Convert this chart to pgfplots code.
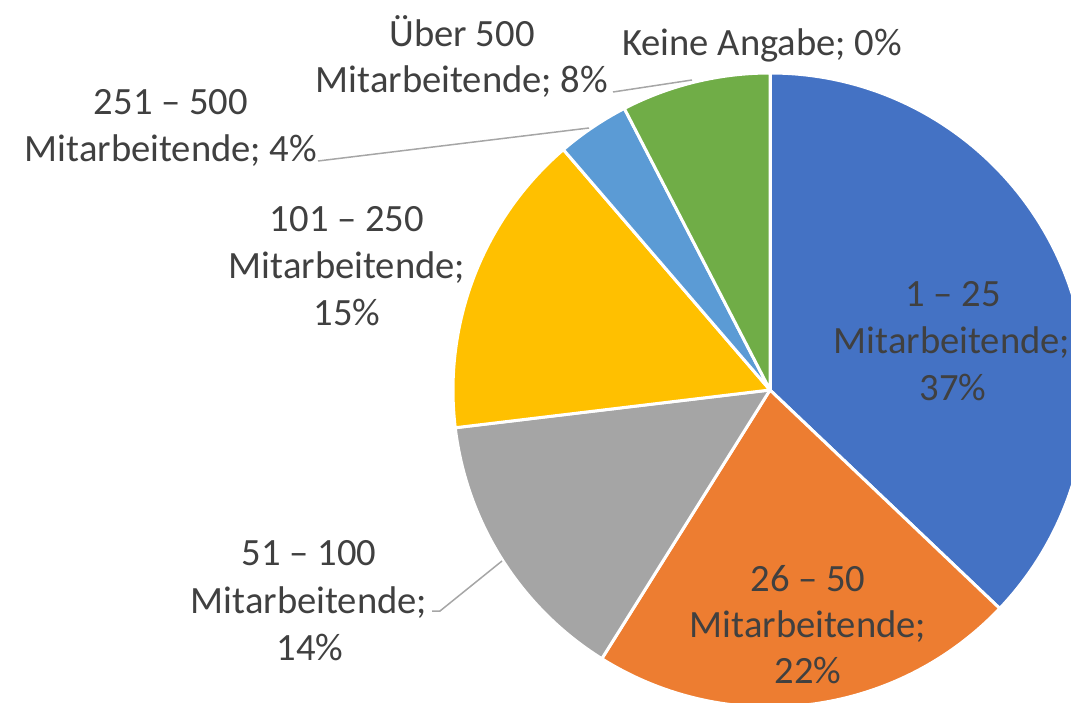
\documentclass[border=0pt]{standalone}
\usepackage{pgfplots}
\usepackage{pgfplotstable}
\pgfplotsset{compat=1.18}
\usepackage{fontspec}
\setmainfont{Carlito}
\definecolor{pblue}{HTML}{4472C4}
\definecolor{porange}{HTML}{ED7D31}
\definecolor{pgray}{HTML}{A5A5A5}
\definecolor{pyellow}{HTML}{FFC000}
\definecolor{plblue}{HTML}{5B9BD5}
\definecolor{pgreen}{HTML}{70AD47}
\definecolor{txt}{HTML}{404040}
\definecolor{leader}{HTML}{A6A6A6}
\tikzset{lbl/.style={font=\fontsize{19.3}{23.5}\selectfont, text=txt, inner sep=0pt, anchor=base}}

% share in percent, clockwise from 12 o'clock
\pgfplotstableread[col sep=comma]{
group,value,color
1-25,37.1,pblue
26-50,21.8,porange
51-100,14.2,pgray
101-250,15.6,pyellow
251-500,3.7,plblue
ueber500,7.6,pgreen
keine,0,pgreen
}\piedata

\begin{document}
\begin{tikzpicture}
\useasboundingbox (0,0) rectangle (535.5pt,351pt);
\begin{axis}[
  x=0.5pt, y=0.5pt,
  xmin=0, xmax=1071, ymin=0, ymax=702,
  hide axis,
  clip=true
]
  \pgfplotstablegetrowsof{\piedata}
  \pgfmathtruncatemacro\lastrow{\pgfplotsretval-1}
  \def\cumsum{0}
  \pgfplotsforeachungrouped \i in {0,...,\lastrow}{
    \pgfplotstablegetelem{\i}{value}\of\piedata \let\slval\pgfplotsretval
    \pgfplotstablegetelem{\i}{color}\of\piedata \let\slcol\pgfplotsretval
    \pgfmathsetmacro\angA{90-3.6*\cumsum}
    \pgfmathsetmacro\angB{90-3.6*(\cumsum+\slval)}
    \pgfmathsetmacro\cumsum{\cumsum+\slval}
    \edef\temp{\noexpand\filldraw[fill=\slcol, draw=white, line width=1.5pt, line join=round]
      (axis cs:770,312) -- ++(\angA:158.5pt)
      arc[start angle=\angA, end angle=\angB, radius=158.5pt] -- cycle;}
    \temp
  }

  % leader lines
  \addplot[leader, line width=0.75pt] coordinates {(318,541) (589,574)};
  \addplot[leader, line width=0.75pt] coordinates {(613,610) (692,622)};
  \addplot[leader, line width=0.75pt] coordinates {(432,91) (440,91) (502,141)};

  % labels
  \node[lbl] at (axis cs:953,395) {1 – 25};
  \node[lbl] at (axis cs:952,348) {Mitarbeitende;};
  \node[lbl] at (axis cs:953,301) {37\%};

  \node[lbl] at (axis cs:808,111) {26 – 50};
  \node[lbl] at (axis cs:808,65) {Mitarbeitende;};
  \node[lbl] at (axis cs:808,19) {22\%};

  \node[lbl] at (axis cs:309,136) {51 – 100};
  \node[lbl] at (axis cs:309,89) {Mitarbeitende;};
  \node[lbl] at (axis cs:310,42) {14\%};

  \node[lbl] at (axis cs:347,470) {101 – 250};
  \node[lbl] at (axis cs:347,423) {Mitarbeitende;};
  \node[lbl] at (axis cs:347,376) {15\%};

  \node[lbl] at (axis cs:171,587) {251 – 500};
  \node[lbl] at (axis cs:171,540) {Mitarbeitende; 4\%};

  \node[lbl] at (axis cs:462,655) {Über 500};
  \node[lbl] at (axis cs:462,609) {Mitarbeitende; 8\%};

  \node[lbl] at (axis cs:762,646) {Keine Angabe; 0\%};
\end{axis}
\end{tikzpicture}
\end{document}
